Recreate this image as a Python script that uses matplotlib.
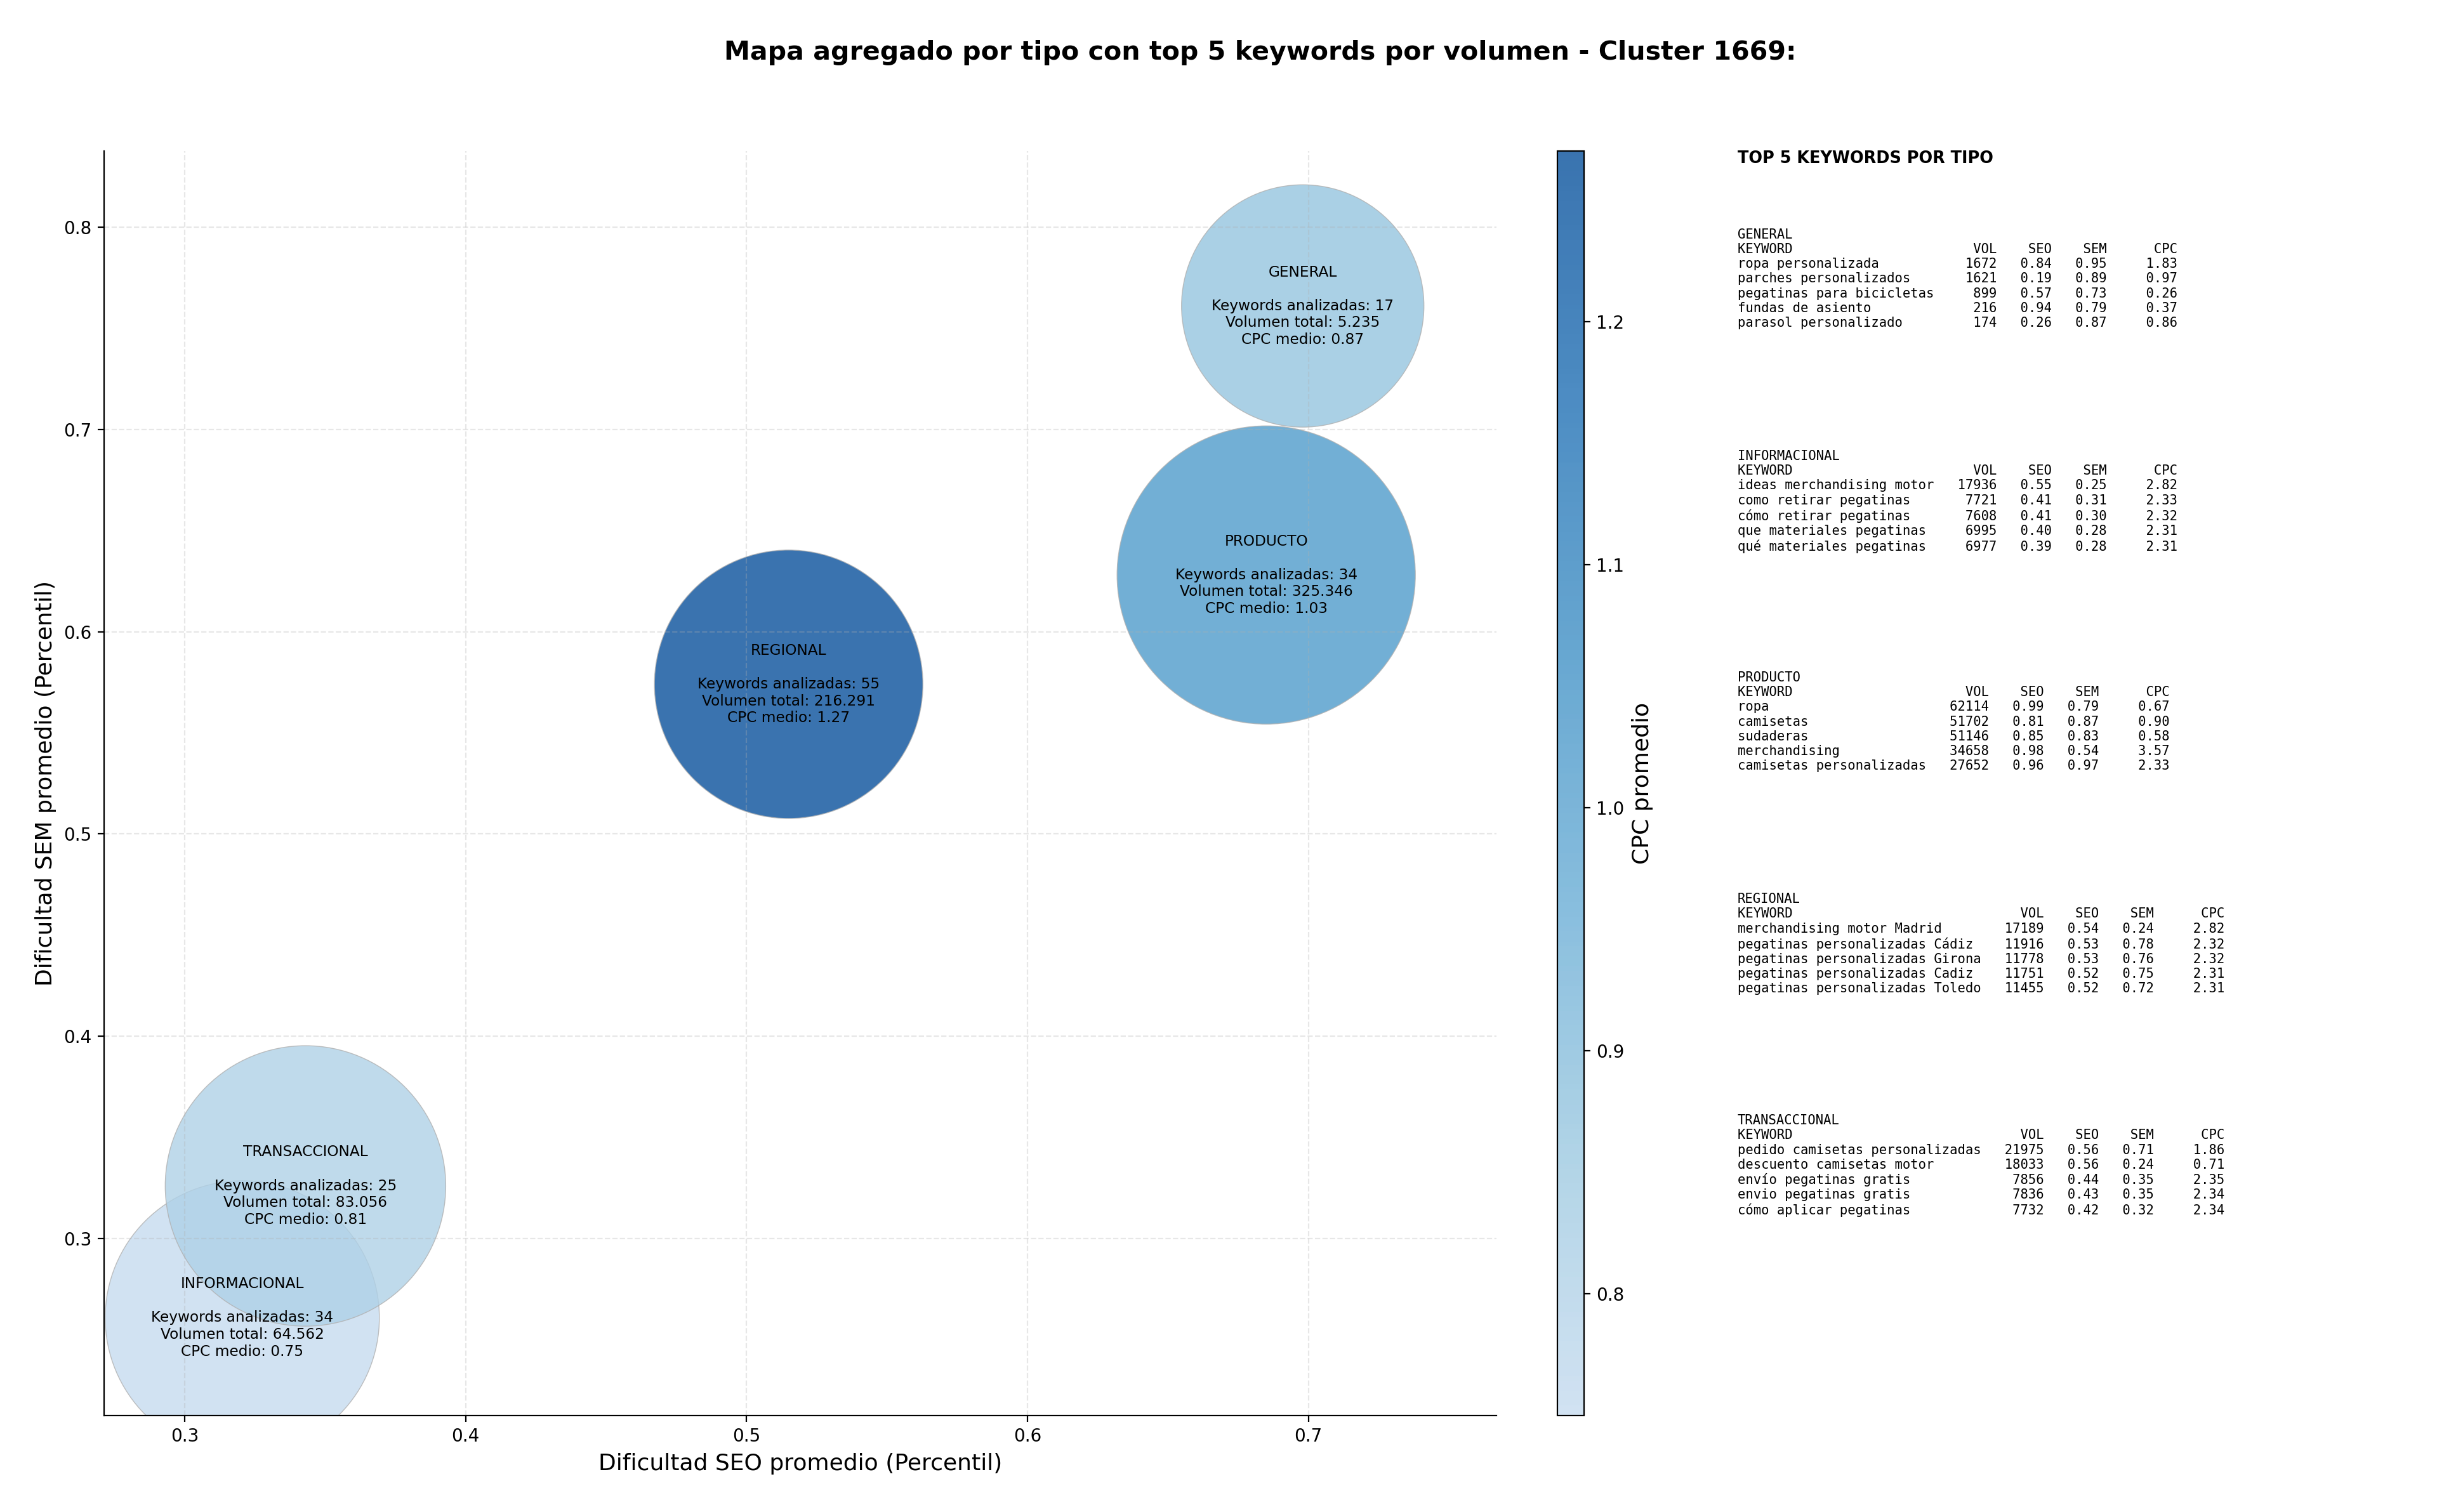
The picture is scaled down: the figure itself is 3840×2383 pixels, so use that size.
import numpy as np
import matplotlib
matplotlib.use("Agg")
import matplotlib.pyplot as plt
from matplotlib.colors import ListedColormap, Normalize

# ---- data ----
tipos = ["GENERAL", "INFORMACIONAL", "PRODUCTO", "REGIONAL", "TRANSACCIONAL"]
seo_medio = [0.698, 0.3205, 0.685, 0.515, 0.343]
sem_medio = [0.761, 0.2608, 0.628, 0.574, 0.326]
n_keywords = [17, 34, 34, 55, 25]
vol_total = [5235, 64562, 325346, 216291, 83056]
cpc_medio = [0.87, 0.75, 1.03, 1.27, 0.81]
bubble_area = [18906, 24186, 28628, 23189, 25319]  # marker areas (pt^2) as seen in picture

top_keywords = {
    "GENERAL": ["ropa personalizada", "parches personalizados", "pegatinas para bicicletas",
                "fundas de asiento", "parasol personalizado"],
    "INFORMACIONAL": ["ideas merchandising motor", "como retirar pegatinas", "cómo retirar pegatinas",
                      "que materiales pegatinas", "qué materiales pegatinas"],
    "PRODUCTO": ["ropa", "camisetas", "sudaderas", "merchandising", "camisetas personalizadas"],
    "REGIONAL": ["merchandising motor Madrid", "pegatinas personalizadas Cádiz",
                 "pegatinas personalizadas Girona", "pegatinas personalizadas Cadiz",
                 "pegatinas personalizadas Toledo"],
    "TRANSACCIONAL": ["pedido camisetas personalizadas", "descuento camisetas motor",
                      "envío pegatinas gratis", "envio pegatinas gratis", "cómo aplicar pegatinas"],
}
top_vol = {
    "GENERAL": [1672, 1621, 899, 216, 174],
    "INFORMACIONAL": [17936, 7721, 7608, 6995, 6977],
    "PRODUCTO": [62114, 51702, 51146, 34658, 27652],
    "REGIONAL": [17189, 11916, 11778, 11751, 11455],
    "TRANSACCIONAL": [21975, 18033, 7856, 7836, 7732],
}
top_seo = {
    "GENERAL": [0.84, 0.19, 0.57, 0.94, 0.26],
    "INFORMACIONAL": [0.55, 0.41, 0.41, 0.40, 0.39],
    "PRODUCTO": [0.99, 0.81, 0.85, 0.98, 0.96],
    "REGIONAL": [0.54, 0.53, 0.53, 0.52, 0.52],
    "TRANSACCIONAL": [0.56, 0.56, 0.44, 0.43, 0.42],
}
top_sem = {
    "GENERAL": [0.95, 0.89, 0.73, 0.79, 0.87],
    "INFORMACIONAL": [0.25, 0.31, 0.30, 0.28, 0.28],
    "PRODUCTO": [0.79, 0.87, 0.83, 0.54, 0.97],
    "REGIONAL": [0.24, 0.78, 0.76, 0.75, 0.72],
    "TRANSACCIONAL": [0.71, 0.24, 0.35, 0.35, 0.32],
}
top_cpc = {
    "GENERAL": [1.83, 0.97, 0.26, 0.37, 0.86],
    "INFORMACIONAL": [2.82, 2.33, 2.32, 2.31, 2.31],
    "PRODUCTO": [0.67, 0.90, 0.58, 3.57, 2.33],
    "REGIONAL": [2.82, 2.32, 2.32, 2.31, 2.31],
    "TRANSACCIONAL": [1.86, 0.71, 2.35, 2.34, 2.34],
}

# ---- figure ----
fig = plt.figure(figsize=(19.2, 11.915), dpi=200)
ax = fig.add_axes([0.0427, 0.0638, 0.5714, 0.8362])
cax = fig.add_axes([0.639, 0.0638, 0.0109, 0.8362])

cmap = ListedColormap(plt.cm.Blues(np.linspace(0.25, 0.875, 256)))
norm = Normalize(vmin=min(cpc_medio), vmax=max(cpc_medio))

sc = ax.scatter(seo_medio, sem_medio, s=bubble_area, c=cpc_medio, cmap=cmap, norm=norm,
                alpha=0.8, edgecolors="#b0b0b0", linewidths=0.5)

for t, x, y, n, v, c in zip(tipos, seo_medio, sem_medio, n_keywords, vol_total, cpc_medio):
    vol_s = f"{v:,}".replace(",", ".")
    label = f"{t}\n\nKeywords analizadas: {n}\nVolumen total: {vol_s}\nCPC medio: {c:.2f}"
    ax.text(x, y, label, ha="center", va="center", multialignment="center", fontsize=8.4)

ax.set_xlim(0.2713, 0.767)
ax.set_ylim(0.2125, 0.8375)
ax.set_xticks([0.3, 0.4, 0.5, 0.6, 0.7])
ax.set_yticks([0.3, 0.4, 0.5, 0.6, 0.7, 0.8])
ax.tick_params(labelsize=10)
ax.grid(True, linestyle="--", alpha=0.3)
ax.spines["top"].set_visible(False)
ax.spines["right"].set_visible(False)
ax.set_xlabel("Dificultad SEO promedio (Percentil)", fontsize=13)
ax.set_ylabel("Dificultad SEM promedio (Percentil)", fontsize=13)

cb = fig.colorbar(sc, cax=cax)
cb.set_label("CPC promedio", fontsize=13)
cb.ax.tick_params(labelsize=10)

fig.suptitle("Mapa agregado por tipo con top 5 keywords por volumen - Cluster 1669:",
             fontsize=14.8, fontweight="bold", x=0.517, y=0.965, va="center")

# ---- side text panel ----
fig.text(0.713, 0.8951, "TOP 5 KEYWORDS POR TIPO", fontsize=9.2, fontweight="bold", va="center")
y0 = 0.849
for i, t in enumerate(tipos):
    kws = top_keywords[t]
    w = max(len(k) for k in kws) + 2
    lines = [t, f"{'KEYWORD':<{w}}{'VOL':>6}{'SEO':>7}{'SEM':>7}{'CPC':>9}"]
    for k, v, s1, s2, c in zip(kws, top_vol[t], top_seo[t], top_sem[t], top_cpc[t]):
        lines.append(f"{k:<{w}}{v:>6}{s1:>7.2f}{s2:>7.2f}{c:>9.2f}")
    fig.text(0.713, y0 - i * 0.1465, "\n".join(lines), family="monospace",
             fontsize=7.4, va="top", linespacing=1.2)

fig.savefig("out.png", dpi=200)
